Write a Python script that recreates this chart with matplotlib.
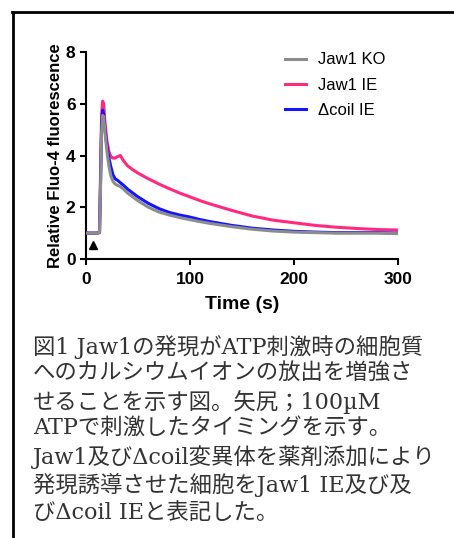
import matplotlib
matplotlib.use("Agg")
import matplotlib.pyplot as plt
from matplotlib.lines import Line2D

# time points (s) and relative Fluo-4 fluorescence
time = [0, 5, 10, 13, 14, 15, 16, 17, 18, 20, 22, 24, 26, 28, 30, 33, 36, 40,
        45, 50, 60, 70, 80, 90, 100, 110, 120, 140, 160, 180, 200, 220, 240,
        260, 280, 300]
jaw1_ko = [1.0, 1.0, 1.0, 1.02, 2.8, 4.9, 5.55, 5.5, 5.0, 4.2, 3.6, 3.2, 3.0,
           2.9, 2.85, 2.8, 2.7, 2.55, 2.4, 2.25, 2.0, 1.82, 1.7, 1.6, 1.52,
           1.44, 1.37, 1.25, 1.15, 1.08, 1.04, 1.02, 1.0, 1.0, 1.0, 0.98]
jaw1_ie = [1.0, 1.0, 1.0, 1.02, 3.4, 5.6, 6.1, 6.0, 5.4, 4.6, 4.15, 3.95, 3.9,
           3.9, 3.95, 4.0, 3.8, 3.6, 3.45, 3.32, 3.1, 2.9, 2.72, 2.55, 2.4,
           2.25, 2.12, 1.88, 1.66, 1.5, 1.4, 1.3, 1.23, 1.18, 1.14, 1.12]
dcoil_ie = [1.0, 1.0, 1.0, 1.02, 3.0, 5.2, 5.75, 5.6, 5.1, 4.4, 3.9, 3.55,
            3.25, 3.1, 3.05, 2.95, 2.85, 2.7, 2.55, 2.4, 2.15, 1.95, 1.8,
            1.7, 1.62, 1.52, 1.44, 1.3, 1.19, 1.12, 1.07, 1.04, 1.02, 1.02,
            1.02, 1.0]
atp_time = [7]
atp_mark = [0.55]

caption = ("図1 Jaw1の発現がATP刺激時の細胞質\n"
           "へのカルシウムイオンの放出を増強さ\n"
           "せることを示す図。矢尻；100µM\n"
           "ATPで刺激したタイミングを示す。\n"
           "Jaw1及びΔcoil変異体を薬剤添加により\n"
           "発現誘導させた細胞をJaw1 IE及び及\n"
           "びΔcoil IEと表記した。")

plt.rcParams['font.family'] = ['Liberation Sans', 'DejaVu Sans']

fig = plt.figure(figsize=(4.54, 5.38), dpi=100)

# outer frame
frame = [Line2D([13 / 454, 13 / 454], [0, 1 - 11.5 / 538]),
         Line2D([12 / 454, 1.0], [1 - 11.5 / 538, 1 - 11.5 / 538])]
for ln in frame:
    ln.set_transform(fig.transFigure)
    ln.set_color('black')
    ln.set_linewidth(2.0)
    fig.add_artist(ln)

ax = fig.add_axes([86 / 454, 1 - 259 / 538, 312 / 454, 207 / 538])

ax.plot(time, jaw1_ie, color='#ff2a7f', lw=2.2, label='Jaw1 IE', zorder=2)
ax.plot(time, dcoil_ie, color='#1414ff', lw=2.2, label='Δcoil IE', zorder=3)
ax.plot(time, jaw1_ko, color='#8c8c8c', lw=2.2, label='Jaw1 KO', zorder=4)
ax.plot(atp_time, atp_mark, marker='^', color='black', ms=5.5, ls='none')

ax.set_xlim(0, 300)
ax.set_ylim(0, 8)
ax.set_xticks([0, 100, 200, 300])
ax.set_yticks([0, 2, 4, 6, 8])
ax.spines['top'].set_visible(False)
ax.spines['right'].set_visible(False)
for s in ['left', 'bottom']:
    ax.spines[s].set_linewidth(1.5)
ax.tick_params(direction='out', width=1.5, length=4.5, labelsize=12.5, pad=3)
ax.tick_params(axis='x', pad=5)
for lbl in ax.get_xticklabels() + ax.get_yticklabels():
    lbl.set_fontweight('bold')

ax.set_xlabel('Time (s)', fontsize=14, fontweight='bold', labelpad=6)
ax.set_ylabel('Relative Fluo-4 fluorescence', fontsize=12, fontweight='bold',
              labelpad=2)

handles, labels = ax.get_legend_handles_labels()
order = [2, 0, 1]
ax.legend([handles[i] for i in order], [labels[i] for i in order],
          loc='upper left', bbox_to_anchor=(192 / 312, 1.03), frameon=False,
          fontsize=12, handlelength=1.25, handletextpad=0.75,
          labelspacing=0.62, borderaxespad=0)

fig.text(33 / 454, 1 - 335 / 538, caption, ha='left', va='top',
         fontsize=16.1, color='#333333', linespacing=1.25,
         family=['DejaVu Serif', 'Noto Sans CJK JP'])

fig.savefig('out.png', dpi=100)
